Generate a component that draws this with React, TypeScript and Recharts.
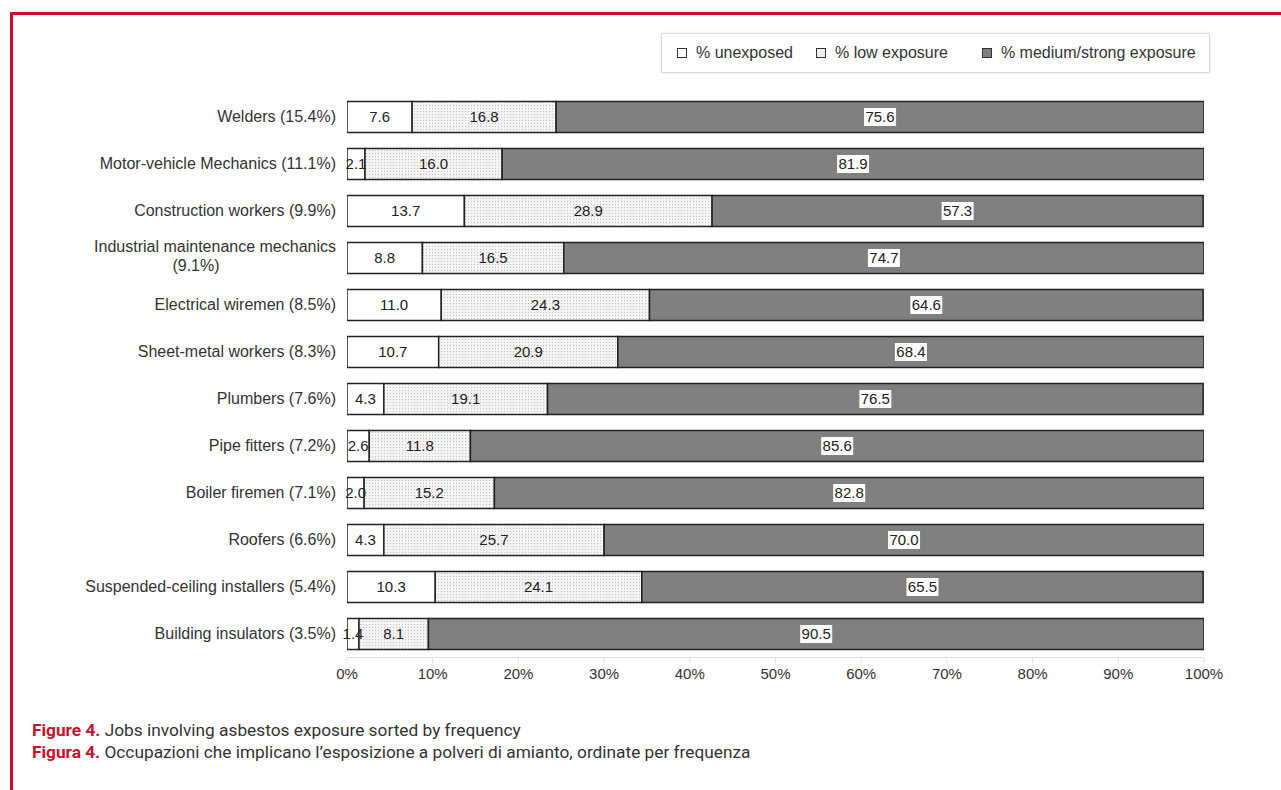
import { BarChart, Bar, XAxis, YAxis, LabelList } from 'recharts';

const jobs = [
  'Welders (15.4%)',
  'Motor-vehicle Mechanics (11.1%)',
  'Construction workers (9.9%)',
  'Industrial maintenance mechanics (9.1%)',
  'Electrical wiremen (8.5%)',
  'Sheet-metal workers (8.3%)',
  'Plumbers (7.6%)',
  'Pipe fitters (7.2%)',
  'Boiler firemen (7.1%)',
  'Roofers (6.6%)',
  'Suspended-ceiling installers (5.4%)',
  'Building insulators (3.5%)',
];
const unexposed = [7.6, 2.1, 13.7, 8.8, 11.0, 10.7, 4.3, 2.6, 2.0, 4.3, 10.3, 1.4];
const lowExposure = [16.8, 16.0, 28.9, 16.5, 24.3, 20.9, 19.1, 11.8, 15.2, 25.7, 24.1, 8.1];
const mediumStrong = [75.6, 81.9, 57.3, 74.7, 64.6, 68.4, 76.5, 85.6, 82.8, 70.0, 65.5, 90.5];
const xTicks = [0, 10, 20, 30, 40, 50, 60, 70, 80, 90, 100];
const legendLabels = ['% unexposed', '% low exposure', '% medium/strong exposure'];

const data = jobs.map((job, i) => ({
  job,
  unexposed: unexposed[i],
  low: lowExposure[i],
  medium: mediumStrong[i],
}));

const FONT = '"Liberation Sans", Arial, sans-serif';
const RED = '#c8102e';

const JobTick = (props: any) => {
  const { x, y, payload } = props;
  const name: string = payload.value;
  if (name.length > 36) {
    // long label: wrap before the percentage, centred
    const cut = name.lastIndexOf(' (');
    return (
      <g>
        <text x={x} y={y - 6} textAnchor="end" fontSize={16} fill="#333" fontFamily={FONT}>
          {name.slice(0, cut)}
        </text>
        <text x={x - 140} y={y + 13} textAnchor="middle" fontSize={16} fill="#333" fontFamily={FONT}>
          {name.slice(cut + 1)}
        </text>
      </g>
    );
  }
  return (
    <text x={x} y={y + 5} textAnchor="end" fontSize={16} fill="#333" fontFamily={FONT}>
      {name}
    </text>
  );
};

const BoxedLabel = (props: any) => {
  const { x, y, width, height, value } = props;
  const cx = x + width / 2;
  const cy = y + height / 2;
  return (
    <g>
      <rect x={cx - 16} y={cy - 9} width={32} height={18} fill="#fff" />
      <text x={cx} y={cy + 5} textAnchor="middle" fontSize={15} fill="#222" fontFamily={FONT}>
        {Number(value).toFixed(1)}
      </text>
    </g>
  );
};

const LegendBox = () => {
  const fills = ['#fff', '#f0f0f0', '#808080'];
  const gaps = [23, 34, 0];
  return (
    <div
      style={{
        position: 'absolute',
        left: 661,
        top: 33,
        width: 549,
        height: 40,
        border: '1px solid #ddd',
        boxShadow: '0 0 3px #e4e4e4',
        background: '#fff',
        display: 'flex',
        alignItems: 'center',
        paddingLeft: 15,
        boxSizing: 'border-box',
        fontFamily: FONT,
        fontSize: 16,
        color: '#333',
        whiteSpace: 'nowrap',
      }}
    >
      {legendLabels.map((label, i) => (
        <div key={label} style={{ display: 'flex', alignItems: 'center', flexShrink: 0, marginRight: gaps[i] }}>
          <span
            style={{
              display: 'inline-block',
              width: 8,
              height: 8,
              border: '1.5px solid #333',
              background: fills[i],
              marginRight: 9,
            }}
          />
          {label}
        </div>
      ))}
    </div>
  );
};

export default function App() {
  return (
    <div style={{ position: 'absolute', left: 0, top: 0, width: 1281, height: 790, background: '#fff', overflow: 'hidden' }}>
      {/* red frame */}
      <div style={{ position: 'absolute', left: 10, top: 12, right: 0, height: 3, background: RED }} />
      <div style={{ position: 'absolute', left: 10, top: 12, bottom: 0, width: 3, background: RED }} />

      <div style={{ position: 'absolute', left: 0, top: 0 }}>
        <BarChart
          width={1281}
          height={700}
          data={data}
          layout="vertical"
          barSize={31}
          margin={{ top: 93.5, right: 77, bottom: 12.5, left: 0 }}
        >
          <defs>
            <pattern id="dots" width="3" height="3" patternUnits="userSpaceOnUse">
              <rect width="3" height="3" fill="#f4f4f4" />
              <rect width="1" height="1" fill="#c4c4c4" />
            </pattern>
          </defs>
          <XAxis
            type="number"
            domain={[0, 100]}
            ticks={xTicks}
            allowDataOverflow
            tickFormatter={(v) => `${v}%`}
            height={30}
            axisLine={{ stroke: '#e0e0e0' }}
            tickLine={{ stroke: '#e0e0e0' }}
            tick={{ fill: '#333', fontSize: 15, fontFamily: FONT }}
            tickSize={6}
            tickMargin={5}
          />
          <YAxis
            type="category"
            dataKey="job"
            width={347}
            axisLine={false}
            tickLine={false}
            tick={<JobTick />}
            tickMargin={5}
            interval={0}
          />
          <Bar dataKey="unexposed" stackId="a" fill="#fff" stroke="#222" strokeWidth={1.5} isAnimationActive={false}>
            <LabelList
              dataKey="unexposed"
              position="center"
              formatter={(v: any) => Number(v).toFixed(1)}
              style={{ fill: '#222', fontSize: 15, fontFamily: FONT }}
            />
          </Bar>
          <Bar dataKey="low" stackId="a" fill="url(#dots)" stroke="#222" strokeWidth={1.5} isAnimationActive={false}>
            <LabelList
              dataKey="low"
              position="center"
              formatter={(v: any) => Number(v).toFixed(1)}
              style={{ fill: '#222', fontSize: 15, fontFamily: FONT }}
            />
          </Bar>
          <Bar dataKey="medium" stackId="a" fill="#808080" stroke="#222" strokeWidth={1.5} isAnimationActive={false}>
            <LabelList dataKey="medium" content={<BoxedLabel />} />
          </Bar>
        </BarChart>
      </div>

      <LegendBox />

      <div
        style={{
          position: 'absolute',
          left: 32,
          top: 719,
          fontFamily: 'Roboto, sans-serif',
          fontSize: 17.3,
          lineHeight: '22px',
          color: '#333',
        }}
      >
        <div>
          <span style={{ color: RED, fontWeight: 'bold' }}>Figure 4.</span> Jobs involving asbestos exposure sorted by frequency
        </div>
        <div>
          <span style={{ color: RED, fontWeight: 'bold' }}>Figura 4.</span> Occupazioni che implicano l’esposizione a polveri di amianto, ordinate per frequenza
        </div>
      </div>
    </div>
  );
}
